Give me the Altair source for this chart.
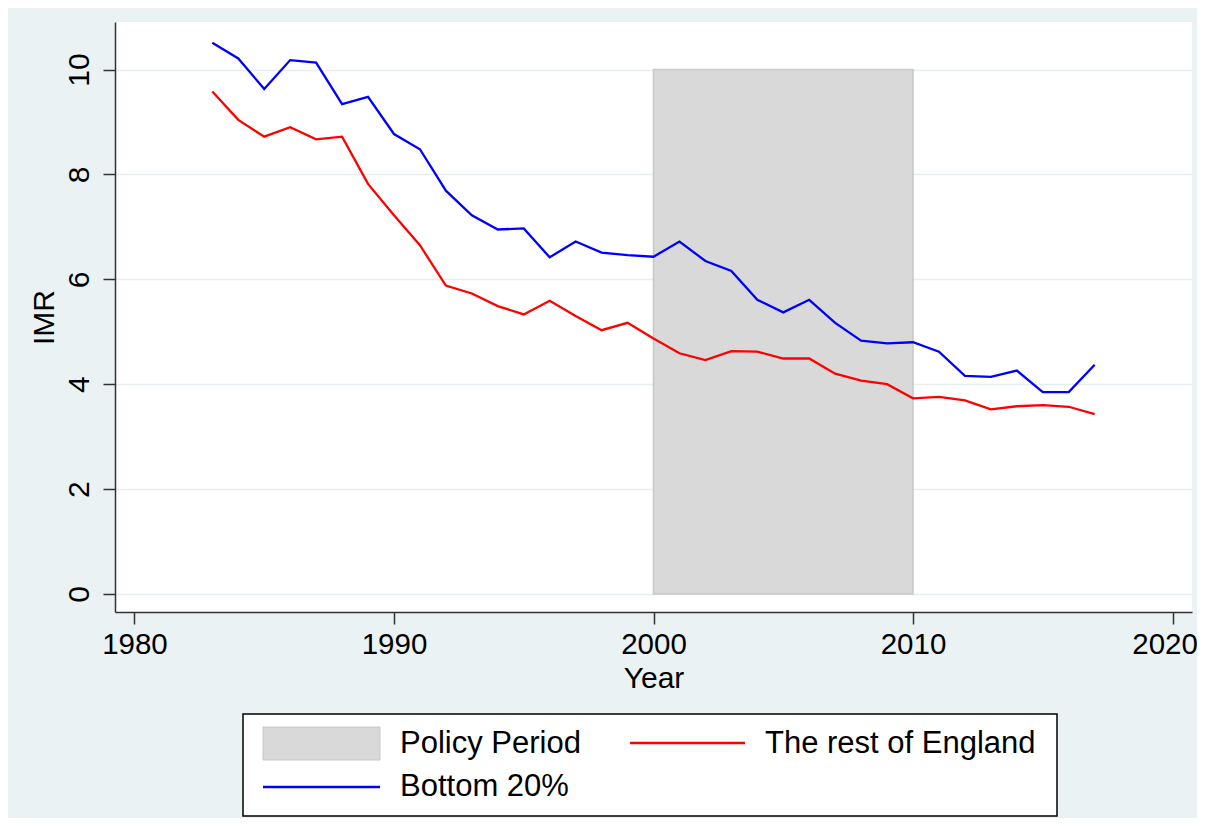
import altair as alt
import pandas as pd

# ---- data ----
years = list(range(1983, 2018))
bottom20 = [10.51, 10.21, 9.63, 10.18, 10.13, 9.34, 9.48, 8.77, 8.48, 7.69,
            7.22, 6.95, 6.97, 6.42, 6.72, 6.51, 6.46, 6.43, 6.72, 6.35,
            6.16, 5.61, 5.37, 5.61, 5.17, 4.83, 4.78, 4.80, 4.62, 4.16,
            4.14, 4.26, 3.85, 3.85, 4.37]
rest_england = [9.58, 9.04, 8.72, 8.90, 8.67, 8.72, 7.82, 7.22, 6.65, 5.88,
                5.73, 5.49, 5.33, 5.59, 5.30, 5.03, 5.17, 4.87, 4.59, 4.46,
                4.63, 4.62, 4.49, 4.49, 4.20, 4.07, 4.00, 3.73, 3.76, 3.69,
                3.52, 3.58, 3.60, 3.57, 3.43]
series_names = ["Bottom 20%", "The rest of England"]
series_colors = ["#0000FF", "#FF0000"]
policy_label = ["Policy Period"]
policy_start = [2000]
policy_end = [2010]
policy_low = [0]
policy_high = [10]
x_ticks = [1980, 1990, 2000, 2010, 2020]
y_ticks = [0, 2, 4, 6, 8, 10]

FONT = "Liberation Sans"
W, H = 1077, 590

lines_df = pd.DataFrame({
    "year": years * 2,
    "imr": bottom20 + rest_england,
    "series": [series_names[0]] * len(years) + [series_names[1]] * len(years),
})
policy_df = pd.DataFrame({"label": policy_label, "start": policy_start,
                          "end": policy_end, "low": policy_low, "high": policy_high})

xscale = alt.Scale(domain=[1979.25, 2020.75], nice=False, zero=False)
yscale = alt.Scale(domain=[-0.343, 10.906], nice=False, zero=False)

xaxis = alt.Axis(values=x_ticks, format="d", grid=False, title="Year",
                 tickSize=12, tickColor="#333333", tickWidth=1.5,
                 domainColor="#333333", domainWidth=1.5,
                 labelFont=FONT, labelFontSize=29.5, labelColor="black",
                 labelBaseline="alphabetic", labelPadding=29,
                 labelOffset={"condition": {"test": "datum.value === 2020", "value": -8},
                              "value": 0},
                 labelFlush=False, labelOverlap=False, labelBound=False,
                 titleFont=FONT, titleFontSize=30, titleFontWeight="normal",
                 titleColor="black", titleBaseline="alphabetic",
                 titleX=W / 2, titleY=75, titleAlign="center")
yaxis = alt.Axis(values=y_ticks, grid=True, gridColor="#E6EEF0", gridWidth=1.5,
                 title="IMR", tickSize=12, tickColor="#333333", tickWidth=1.5,
                 domainColor="#333333", domainWidth=1.5,
                 labelFont=FONT, labelFontSize=30, labelColor="black",
                 labelAngle=270, labelAlign="center", labelBaseline="alphabetic",
                 labelPadding=15, labelOverlap=False, labelFlush=False,
                 titleFont=FONT, titleFontSize=30, titleFontWeight="normal",
                 titleColor="black", titleAngle=270, titleAlign="center",
                 titleBaseline="alphabetic", titleX=-62, titleY=H / 2)

policy = alt.Chart(policy_df).mark_rect(
    fill="#D9D9D9", stroke="#C8C8C8", strokeWidth=1.5
).encode(
    x=alt.X("start:Q", scale=xscale, axis=xaxis),
    x2="end:Q",
    y=alt.Y("low:Q", scale=yscale, axis=yaxis),
    y2="high:Q",
)

lines = alt.Chart(lines_df).mark_line(strokeWidth=2.3).encode(
    x=alt.X("year:Q", scale=xscale, axis=xaxis),
    y=alt.Y("imr:Q", scale=yscale, axis=yaxis),
    color=alt.Color("series:N", scale=alt.Scale(domain=series_names, range=series_colors),
                    legend=None),
)

# ---- hand-built legend box (below the plot) ----
one = pd.DataFrame({"k": [0]})
leg_box = alt.Chart(one).mark_rect(fill="white", stroke="black", strokeWidth=1.5).encode(
    x=alt.value(128), x2=alt.value(942), y=alt.value(692), y2=alt.value(794))
leg_swatch = alt.Chart(one).mark_rect(fill="#D9D9D9", stroke="#C8C8C8", strokeWidth=1).encode(
    x=alt.value(148), x2=alt.value(265), y=alt.value(705), y2=alt.value(738))
leg_red = alt.Chart(one).mark_rule(color=series_colors[1], strokeWidth=2.3).encode(
    x=alt.value(515), x2=alt.value(630), y=alt.value(721))
leg_blue = alt.Chart(one).mark_rule(color=series_colors[0], strokeWidth=2.3).encode(
    x=alt.value(148), x2=alt.value(265), y=alt.value(765))


def leg_text(label, x, y):
    return alt.Chart(pd.DataFrame({"label": [label]})).mark_text(
        font=FONT, fontSize=31, align="left", baseline="middle", color="black"
    ).encode(x=alt.value(x), y=alt.value(y), text="label:N")


chart = alt.layer(
    policy, lines,
    leg_box, leg_swatch, leg_red, leg_blue,
    leg_text(policy_label[0], 285, 722),
    leg_text(series_names[1], 650, 722),
    leg_text(series_names[0], 285, 765),
).properties(
    width=W, height=H,
    autosize=alt.AutoSizeParams(type="none"),
    padding={"left": 107, "top": 14, "right": 5, "bottom": 206},
    background="#EAF2F3",
).configure_view(fill="white", strokeWidth=0)

chart.save("out.html", embed_options={"renderer": "svg", "actions": False})
